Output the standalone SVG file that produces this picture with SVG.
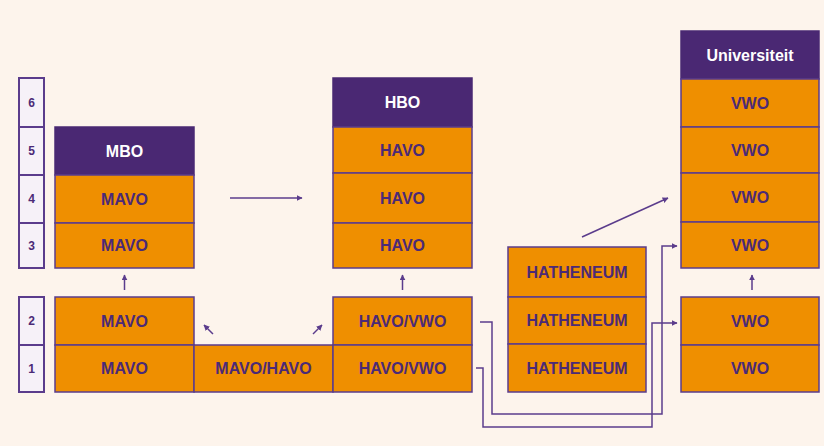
<svg xmlns="http://www.w3.org/2000/svg" width="824" height="446" viewBox="0 0 824 446">
<defs>
<style>
.o{fill:#ef8f00;stroke:#5b3c8c;stroke-width:1.5}
.p{fill:#4a2873;stroke:#4a2873;stroke-width:1.5}
.lv{fill:#f6f1f8;stroke:#5b3c8c;stroke-width:2}
.t{font-family:"Liberation Sans",Arial,sans-serif;font-weight:bold;font-size:16px;fill:#4b2a77;text-anchor:middle}
.w{font-family:"Liberation Sans",Arial,sans-serif;font-weight:bold;font-size:16px;fill:#ffffff;text-anchor:middle}
.n{font-family:"Liberation Sans",Arial,sans-serif;font-weight:bold;font-size:12px;fill:#4b2a77;text-anchor:middle}
.c{fill:none;stroke:#5b3c8c;stroke-width:1.5}
</style>
<marker id="a" viewBox="0 0 10 10" refX="9" refY="5" markerWidth="6" markerHeight="6" markerUnits="userSpaceOnUse" orient="auto">
<path d="M0,0 L10,5 L0,10 z" fill="#5b3c8c"/>
</marker>
</defs>
<rect x="0" y="0" width="824" height="446" fill="#fdf4ec"/>

<g id="levels-upper">
<rect class="lv" x="19" y="78" width="25" height="49"/>
<rect class="lv" x="19" y="127" width="25" height="48"/>
<rect class="lv" x="19" y="175" width="25" height="48"/>
<rect class="lv" x="19" y="223" width="25" height="45"/>
<text class="n" x="31.5" y="107">6</text>
<text class="n" x="31.5" y="155">5</text>
<text class="n" x="31.5" y="203">4</text>
<text class="n" x="31.5" y="250">3</text>
</g>
<g id="levels-lower">
<rect class="lv" x="19" y="297" width="25" height="48"/>
<rect class="lv" x="19" y="345" width="25" height="47"/>
<text class="n" x="31.5" y="325">2</text>
<text class="n" x="31.5" y="373">1</text>
</g>

<g id="mbo">
<rect class="p" x="55" y="127" width="139" height="48"/>
<text class="w" x="124.5" y="157">MBO</text>
</g>
<g id="mavo-4">
<rect class="o" x="55" y="175" width="139" height="48"/>
<text class="t" x="124.5" y="205">MAVO</text>
</g>
<g id="mavo-3">
<rect class="o" x="55" y="223" width="139" height="45"/>
<text class="t" x="124.5" y="251">MAVO</text>
</g>
<g id="mavo-2">
<rect class="o" x="55" y="297" width="139" height="48"/>
<text class="t" x="124.5" y="327">MAVO</text>
</g>
<g id="mavo-1">
<rect class="o" x="55" y="345" width="139" height="47"/>
<text class="t" x="124.5" y="374">MAVO</text>
</g>
<g id="mavo-havo-1">
<rect class="o" x="194" y="345" width="139" height="47"/>
<text class="t" x="263.5" y="374">MAVO/HAVO</text>
</g>
<g id="havo-vwo-2">
<rect class="o" x="333" y="297" width="139" height="48"/>
<text class="t" x="402.5" y="327">HAVO/VWO</text>
</g>
<g id="havo-vwo-1">
<rect class="o" x="333" y="345" width="139" height="47"/>
<text class="t" x="402.5" y="374">HAVO/VWO</text>
</g>

<g id="hbo">
<rect class="p" x="333" y="78" width="139" height="49"/>
<text class="w" x="402.5" y="108">HBO</text>
</g>
<g id="havo-5">
<rect class="o" x="333" y="127" width="139" height="46"/>
<text class="t" x="402.5" y="156">HAVO</text>
</g>
<g id="havo-4">
<rect class="o" x="333" y="173" width="139" height="50"/>
<text class="t" x="402.5" y="204">HAVO</text>
</g>
<g id="havo-3">
<rect class="o" x="333" y="223" width="139" height="45"/>
<text class="t" x="402.5" y="251">HAVO</text>
</g>

<g id="hatheneum-3">
<rect class="o" x="508" y="247" width="138" height="50"/>
<text class="t" x="577" y="278">HATHENEUM</text>
</g>
<g id="hatheneum-2">
<rect class="o" x="508" y="297" width="138" height="47"/>
<text class="t" x="577" y="326">HATHENEUM</text>
</g>
<g id="hatheneum-1">
<rect class="o" x="508" y="344" width="138" height="48"/>
<text class="t" x="577" y="374">HATHENEUM</text>
</g>

<g id="universiteit">
<rect class="p" x="681" y="31" width="138" height="48"/>
<text class="w" x="750" y="61">Universiteit</text>
</g>
<g id="vwo-6">
<rect class="o" x="681" y="79" width="138" height="48"/>
<text class="t" x="750" y="109">VWO</text>
</g>
<g id="vwo-5">
<rect class="o" x="681" y="127" width="138" height="46"/>
<text class="t" x="750" y="156">VWO</text>
</g>
<g id="vwo-4">
<rect class="o" x="681" y="173" width="138" height="49"/>
<text class="t" x="750" y="203">VWO</text>
</g>
<g id="vwo-3">
<rect class="o" x="681" y="222" width="138" height="46"/>
<text class="t" x="750" y="251">VWO</text>
</g>
<g id="vwo-2">
<rect class="o" x="681" y="297" width="138" height="48"/>
<text class="t" x="750" y="327">VWO</text>
</g>
<g id="vwo-1">
<rect class="o" x="681" y="345" width="138" height="47"/>
<text class="t" x="750" y="374">VWO</text>
</g>

<g id="connectors">
<line class="c" x1="124.5" y1="290" x2="124.5" y2="275" marker-end="url(#a)"/>
<line class="c" x1="402.5" y1="290" x2="402.5" y2="275" marker-end="url(#a)"/>
<line class="c" x1="752" y1="290" x2="752" y2="275" marker-end="url(#a)"/>
<line class="c" x1="213" y1="334" x2="204" y2="325" marker-end="url(#a)"/>
<line class="c" x1="313" y1="334" x2="322" y2="325" marker-end="url(#a)"/>
<line class="c" x1="230" y1="198" x2="302" y2="198" marker-end="url(#a)"/>
<line class="c" x1="582" y1="237" x2="668" y2="198" marker-end="url(#a)"/>
<polyline class="c" points="480,322 492,322 492,414 662,414 662,246 677,246" marker-end="url(#a)"/>
<polyline class="c" points="476,368 483,368 483,427 652,427 652,323 677,323" marker-end="url(#a)"/>
</g>
</svg>
